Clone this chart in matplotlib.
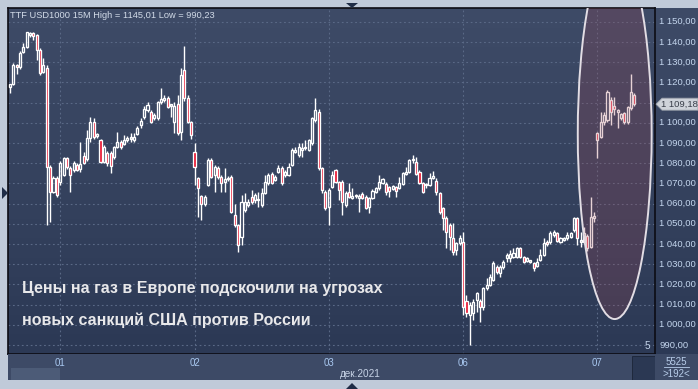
import numpy as np
import matplotlib
matplotlib.use("Agg")
import matplotlib.pyplot as plt
from matplotlib.patches import Ellipse, Rectangle, Polygon
from matplotlib.colors import LinearSegmentedColormap
from matplotlib import transforms

# ---------------- data (TTF USD1000, 15M bars) ----------------
opens = [1117.7, 1119.0, 1128.5, 1127.4, 1135.0, 1137.6, 1143.2, 1144.2, 1143.4, 1136.0,
         1125.3, 1126.9, 1078.2, 1065.9, 1072.5, 1070.6, 1074.1, 1082.4, 1077.4, 1076.6,
         1079.0, 1077.2, 1083.5, 1081.9, 1092.5, 1100.2, 1093.4, 1091.4, 1080.8, 1085.0,
         1084.8, 1083.2, 1088.1, 1090.6, 1089.5, 1091.5, 1092.0, 1091.5, 1094.6, 1098.9,
         1103.0, 1106.3, 1105.5, 1102.2, 1102.5, 1110.2, 1111.2, 1112.1, 1108.5, 1100.5,
         1109.2, 1095.6, 1126.1, 1112.1, 1100.5, 1085.7, 1072.5, 1063.5, 1059.7, 1069.2,
         1081.5, 1074.1, 1077.4, 1073.3, 1070.5, 1072.0, 1073.3, 1054.3, 1049.4, 1043.6,
         1056.8, 1059.3, 1063.4, 1061.7, 1061.5, 1059.3, 1065.0, 1070.0, 1074.4, 1071.6,
         1075.8, 1077.4, 1074.1, 1074.1, 1079.1, 1085.7, 1084.0, 1086.5, 1087.3, 1086.5,
         1089.8, 1101.3, 1105.5, 1077.4, 1065.9, 1058.4, 1068.3, 1076.4, 1070.5, 1070.5,
         1059.3, 1065.9, 1062.9, 1063.5, 1062.5, 1064.5, 1063.4, 1058.4, 1062.6, 1065.9,
         1067.5, 1070.0, 1069.5, 1068.0, 1067.2, 1068.2, 1067.5, 1069.7, 1074.6, 1075.8,
         1081.3, 1080.7, 1075.8, 1070.0, 1069.0, 1069.2, 1072.8, 1071.1, 1065.0, 1057.6,
         1053.0, 1049.4, 1042.8, 1037.0, 1040.3, 1040.8, 1011.7, 1004.8, 1005.6, 1012.2,
         1011.7, 1008.9, 1018.0, 1019.7, 1022.2, 1028.7, 1025.4, 1028.7, 1032.9, 1033.2,
         1033.7, 1033.7, 1037.8, 1033.7, 1031.5, 1031.2, 1030.4, 1029.2, 1032.1, 1034.5,
         1041.1, 1040.8, 1044.4, 1045.2, 1041.1, 1041.9, 1042.8, 1043.6, 1046.9, 1052.7,
         1041.1, 1041.1, 1044.1, 1038.6, 1053.0, 1094.7, 1093.1, 1100.5, 1101.3, 1111.3,
         1108.3, 1105.5, 1102.5, 1104.6, 1100.5, 1107.1, 1113.7]
highs = [1119.3, 1129.5, 1129.0, 1135.5, 1139.3, 1145.0, 1144.8, 1144.9, 1144.0, 1136.8,
         1131.9, 1128.6, 1079.0, 1073.5, 1073.6, 1081.0, 1083.2, 1083.0, 1078.5, 1081.0,
         1080.0, 1090.5, 1085.7, 1096.4, 1103.0, 1102.5, 1095.0, 1092.0, 1089.0, 1086.0,
         1086.0, 1088.6, 1095.5, 1091.5, 1093.9, 1093.5, 1094.7, 1095.0, 1098.5, 1102.3,
         1108.5, 1110.4, 1106.5, 1105.0, 1111.0, 1117.0, 1113.7, 1113.0, 1109.5, 1110.5,
         1113.7, 1127.2, 1138.0, 1113.7, 1101.0, 1089.8, 1073.0, 1064.3, 1064.0, 1082.5,
         1082.5, 1079.0, 1078.5, 1074.0, 1077.4, 1073.5, 1074.0, 1060.0, 1050.0, 1064.2,
         1065.0, 1062.0, 1066.7, 1065.0, 1065.9, 1067.5, 1074.1, 1074.9, 1075.5, 1074.0,
         1079.0, 1078.4, 1076.5, 1079.9, 1087.3, 1088.0, 1089.8, 1089.8, 1091.4, 1092.0,
         1103.0, 1112.4, 1107.0, 1078.2, 1066.5, 1067.5, 1076.2, 1077.0, 1071.0, 1071.5,
         1066.4, 1070.0, 1067.5, 1064.5, 1064.5, 1065.5, 1064.0, 1063.4, 1067.0, 1068.3,
         1074.1, 1072.5, 1070.5, 1068.5, 1069.2, 1068.8, 1073.0, 1075.5, 1078.2, 1082.0,
         1084.0, 1083.2, 1076.5, 1070.5, 1070.0, 1075.0, 1076.3, 1072.5, 1065.9, 1058.4,
         1054.0, 1050.2, 1050.2, 1041.0, 1044.4, 1046.1, 1014.7, 1011.0, 1012.5, 1016.4,
         1012.5, 1018.8, 1023.0, 1025.0, 1031.5, 1029.6, 1029.6, 1032.1, 1035.4, 1037.0,
         1038.1, 1038.5, 1038.5, 1034.2, 1033.7, 1032.0, 1031.0, 1032.9, 1037.5, 1042.8,
         1041.8, 1046.4, 1047.0, 1046.0, 1043.6, 1043.5, 1046.1, 1046.0, 1053.3, 1053.3,
         1046.1, 1048.5, 1045.0, 1063.4, 1055.9, 1095.5, 1105.5, 1105.5, 1116.2, 1112.9,
         1112.9, 1107.0, 1105.0, 1105.5, 1108.5, 1124.0, 1114.5]
lows = [1114.5, 1118.5, 1124.0, 1126.8, 1134.3, 1137.0, 1142.5, 1141.0, 1131.0, 1123.6,
        1124.4, 1049.4, 1051.0, 1065.0, 1063.2, 1069.0, 1073.5, 1077.0, 1065.9, 1075.8,
        1076.0, 1075.8, 1079.5, 1081.0, 1090.6, 1092.0, 1092.5, 1080.0, 1080.0, 1078.5,
        1075.0, 1082.0, 1087.5, 1087.0, 1088.8, 1090.5, 1090.6, 1090.5, 1093.8, 1097.5,
        1102.0, 1105.5, 1100.0, 1101.5, 1101.5, 1109.5, 1110.5, 1107.5, 1103.0, 1095.0,
        1093.9, 1091.5, 1111.0, 1100.0, 1092.0, 1069.2, 1053.5, 1052.0, 1059.0, 1068.5,
        1072.5, 1065.9, 1072.0, 1065.9, 1065.9, 1071.0, 1055.5, 1048.5, 1036.2, 1039.5,
        1056.0, 1058.5, 1060.0, 1060.5, 1058.4, 1058.5, 1064.5, 1069.0, 1069.5, 1071.0,
        1075.0, 1069.2, 1073.0, 1073.5, 1078.5, 1085.0, 1083.2, 1083.2, 1086.5, 1086.0,
        1089.0, 1100.5, 1076.5, 1065.0, 1057.0, 1049.4, 1067.5, 1070.0, 1061.7, 1054.3,
        1058.5, 1062.5, 1062.0, 1062.5, 1056.0, 1062.0, 1057.1, 1055.1, 1062.0, 1065.0,
        1066.8, 1069.5, 1064.2, 1063.4, 1066.5, 1063.0, 1067.0, 1069.0, 1074.0, 1075.0,
        1079.9, 1074.0, 1069.5, 1065.0, 1067.5, 1068.5, 1072.0, 1064.2, 1055.0, 1047.0,
        1037.8, 1037.0, 1034.5, 1034.5, 1039.5, 1004.8, 1004.0, 990.2, 1002.3, 1006.5,
        1001.5, 1007.3, 1017.0, 1019.0, 1021.5, 1025.0, 1023.8, 1027.5, 1031.2, 1031.2,
        1033.0, 1033.0, 1033.0, 1030.5, 1031.0, 1030.4, 1026.6, 1028.5, 1031.5, 1034.0,
        1039.0, 1040.0, 1043.5, 1040.8, 1040.5, 1041.3, 1042.0, 1043.0, 1046.0, 1039.5,
        1038.6, 1040.5, 1036.5, 1037.8, 1051.0, 1082.4, 1092.3, 1098.9, 1100.5, 1098.9,
        1103.8, 1097.2, 1101.5, 1099.2, 1099.5, 1106.3, 1108.5]
closes = [1119.0, 1128.6, 1127.4, 1134.3, 1137.6, 1144.7, 1144.2, 1142.8, 1136.0, 1124.4,
          1128.6, 1078.2, 1065.9, 1072.5, 1064.2, 1079.9, 1082.5, 1078.2, 1074.2, 1079.9,
          1076.6, 1079.8, 1080.2, 1092.5, 1100.2, 1093.0, 1094.2, 1080.8, 1088.0, 1080.0,
          1078.4, 1088.1, 1090.6, 1088.2, 1091.3, 1092.3, 1092.3, 1093.1, 1097.5, 1100.8,
          1106.8, 1108.8, 1100.5, 1104.0, 1110.2, 1111.8, 1112.4, 1108.0, 1109.0, 1108.5,
          1094.7, 1123.6, 1112.1, 1100.5, 1093.9, 1078.2, 1067.5, 1059.7, 1063.2, 1081.5,
          1073.3, 1078.2, 1073.3, 1070.0, 1072.0, 1072.5, 1056.0, 1049.4, 1039.5, 1060.9,
          1060.9, 1060.9, 1060.9, 1064.2, 1062.0, 1065.0, 1070.8, 1074.1, 1070.0, 1073.3,
          1077.7, 1070.0, 1075.8, 1078.2, 1086.5, 1086.5, 1088.1, 1087.3, 1087.5, 1091.4,
          1102.2, 1106.3, 1077.4, 1066.7, 1057.6, 1066.7, 1074.1, 1070.8, 1066.7, 1060.9,
          1065.0, 1063.4, 1063.9, 1063.6, 1063.9, 1062.9, 1058.0, 1062.6, 1066.4, 1067.5,
          1070.8, 1072.1, 1065.9, 1066.4, 1068.7, 1066.4, 1070.0, 1075.0, 1075.8, 1081.5,
          1081.7, 1074.4, 1070.0, 1065.9, 1069.4, 1072.5, 1073.8, 1065.9, 1055.9, 1052.7,
          1046.1, 1043.3, 1036.2, 1040.3, 1042.8, 1008.9, 1005.6, 1009.8, 1011.4, 1015.6,
          1008.9, 1018.0, 1019.7, 1023.8, 1030.4, 1026.3, 1028.4, 1031.2, 1034.5, 1034.8,
          1035.3, 1037.8, 1033.7, 1031.2, 1032.9, 1031.4, 1027.9, 1031.2, 1034.5, 1040.3,
          1039.8, 1045.2, 1046.1, 1041.4, 1042.8, 1042.8, 1044.4, 1045.2, 1052.7, 1042.8,
          1041.5, 1045.2, 1037.8, 1053.5, 1053.8, 1091.4, 1100.5, 1103.8, 1115.4, 1105.5,
          1106.8, 1106.3, 1104.2, 1100.5, 1107.9, 1115.4, 1109.2]

day_labels = ["01", "02", "03", "06", "07"]
day_start_bars = [15, 55, 95, 135, 175]
month_label = "дек.2021"
price_ticks = [990, 1000, 1010, 1020, 1030, 1040, 1050, 1060, 1070, 1080, 1090,
               1100, 1110, 1120, 1130, 1140, 1150]
last_price = 1109.18
title = "TTF USD1000 15M High = 1145,01 Low = 990,23"
caption = ["Цены на газ в Европе подскочили на угрозах",
           "новых санкций США против России"]

# ---------------- figure layout ----------------
W, H = 698, 389
fig = plt.figure(figsize=(W / 100, H / 100), dpi=100)
fig.patch.set_facecolor('#c0cad9')

def box(x0, y0, x1, y1):
    return [x0 / W, 1 - y1 / H, (x1 - x0) / W, (y1 - y0) / H]

YMIN, YMAX = 985.5, 1156.8
XMIN, XMAX = -0.55, 192.15

# gradient background for chart + price panel
bg = fig.add_axes(box(8, 8, 698, 354))
grad = np.linspace(0, 1, 256).reshape(-1, 1)
cmap = LinearSegmentedColormap.from_list('bg', ['#3e4b67', '#2c3955'])
bg.imshow(grad, aspect='auto', cmap=cmap, extent=[0, 1, 0, 1], origin='upper')
bg.set_axis_off()

ax = fig.add_axes(box(8, 8, 655, 354))
ax.set_facecolor('none')
ax.set_xlim(XMIN, XMAX)
ax.set_ylim(YMIN, YMAX)
ax.set_xticks([])
ax.set_yticks([])
for s in ax.spines.values():
    s.set_color('#0c0c14')
    s.set_linewidth(1.2)

grid_kw = dict(color='#5a6986', lw=0.8, ls=(0, (1.6, 2.4)), zorder=1)
for p in price_ticks:
    ax.axhline(p, **grid_kw)
for b in day_start_bars:
    ax.axvline(b, **grid_kw)

# candles
x = np.arange(len(closes))
o = np.array(opens); h = np.array(highs); l = np.array(lows); c = np.array(closes)
top = np.maximum(o, c); bot = np.minimum(o, c)
ax.vlines(x, top, h, color='white', lw=1.0, zorder=3)
ax.vlines(x, l, bot, color='white', lw=1.0, zorder=3)
height = np.maximum(top - bot, 0.7)
up = c >= o
ax.bar(x[up], height[up], bottom=bot[up], width=0.62, facecolor='none',
       edgecolor='white', linewidth=0.95, zorder=4)
ax.bar(x[~up], height[~up], bottom=bot[~up], width=0.62, facecolor='#e8102c',
       edgecolor='white', linewidth=0.95, zorder=4)

# highlight ellipse
ell = Ellipse((180.15, 1094.4), 22.0, 183.2, facecolor=(0.62, 0.27, 0.32, 0.24),
              edgecolor='#e2dde4', lw=1.4, zorder=6)
ax.add_patch(ell)

# small shift marker "5"
ax.text(0.993, 0.022, "5", transform=ax.transAxes, ha='right', va='center',
        fontsize=7.2, color='#c4d4ea', family='Liberation Sans', zorder=7)

# title and caption
fig.text(10 / W, 1 - 15 / H, title, fontsize=6.7, color='#d2dbe8',
         family='Liberation Sans', va='center', ha='left')
fig.text(22 / W, 1 - 289 / H, caption[0], fontsize=11.5, fontweight='bold',
         color='#e8e8ea', family='Liberation Sans', va='center', ha='left')
fig.text(22 / W, 1 - 320 / H, caption[1], fontsize=11.5, fontweight='bold',
         color='#e8e8ea', family='Liberation Sans', va='center', ha='left')

# price labels (the one hidden behind the last-price tag is not shown)
ytrans = transforms.blended_transform_factory(fig.transFigure, ax.transData)
def fmt(v):
    return f"{v:,.2f}".replace(",", " ").replace(".", ",")
for p in price_ticks:
    if abs(p - last_price) < 4:
        continue
    ax.text(659 / W, p, fmt(p), transform=ytrans, fontsize=6.8, color='#c4d6ee',
            family='Liberation Sans', va='center', ha='left', clip_on=False)

# last price tag
py = 8 + (YMAX - last_price) * 346 / (YMAX - YMIN)
tag = Polygon([(656 / W, 1 - py / H), (662 / W, 1 - (py - 6) / H), (698 / W, 1 - (py - 6) / H),
               (698 / W, 1 - (py + 6) / H), (662 / W, 1 - (py + 6) / H)],
              closed=True, transform=fig.transFigure, facecolor='#cfd3da',
              edgecolor='#9aa0aa', lw=0.6)
fig.patches.append(tag)
fig.text(661 / W, 1 - py / H, fmt(last_price), fontsize=6.8, color='#3a3f4a',
         family='Liberation Sans', va='center', ha='left')

# bottom time panel
bx = fig.add_axes(box(8, 354, 655, 380))
bx.set_facecolor('#3d4a66')
bx.set_xlim(XMIN, XMAX)
bx.set_ylim(0, 1)
bx.set_xticks([]); bx.set_yticks([])
for s in bx.spines.values():
    s.set_visible(False)
for b, lab in zip(day_start_bars, day_labels):
    bx.text(b, 0.66, lab, fontsize=7, color='#a9c8f0', ha='center', va='center',
            family='Liberation Sans')
bx.text(104.5, 0.23, month_label, fontsize=7.2, color='#c7d3e6', ha='center',
        va='center', family='Liberation Sans')
bx.add_patch(Rectangle((0.005, 0.0), 0.075, 0.46, transform=bx.transAxes,
                       facecolor='#4c5b77', edgecolor='none'))
bx.add_patch(Rectangle((0.965, 0.0), 0.035, 0.92, transform=bx.transAxes,
                       facecolor='#2b3853', edgecolor='#1c2538', lw=0.6))

# bottom right corner
cx = fig.add_axes(box(655, 354, 698, 380))
cx.set_facecolor('#3d4a66')
cx.set_xticks([]); cx.set_yticks([])
for s in cx.spines.values():
    s.set_visible(False)
cx.text(0.5, 0.68, "5525", fontsize=7, color='#b8cdea', ha='center', va='center',
        transform=cx.transAxes, family='Liberation Sans')
cx.plot([0.2, 0.8], [0.5, 0.5], color='#b8cdea', lw=0.6, transform=cx.transAxes)
cx.text(0.5, 0.22, ">192<", fontsize=7, color='#b8cdea', ha='center', va='center',
        transform=cx.transAxes, family='Liberation Sans')

# frame triangles
tri_col = '#1f2c46'
for pts in ([(346, 3), (358, 3), (352, 8)],
            [(2, 187), (2, 199), (8, 193)],
            [(346, 389), (358, 389), (352, 383)]):
    fig.patches.append(Polygon([(px / W, 1 - pyy / H) for px, pyy in pts], closed=True,
                               transform=fig.transFigure, facecolor=tri_col,
                               edgecolor='none'))

fig.savefig("out.png", dpi=100, facecolor=fig.get_facecolor())
